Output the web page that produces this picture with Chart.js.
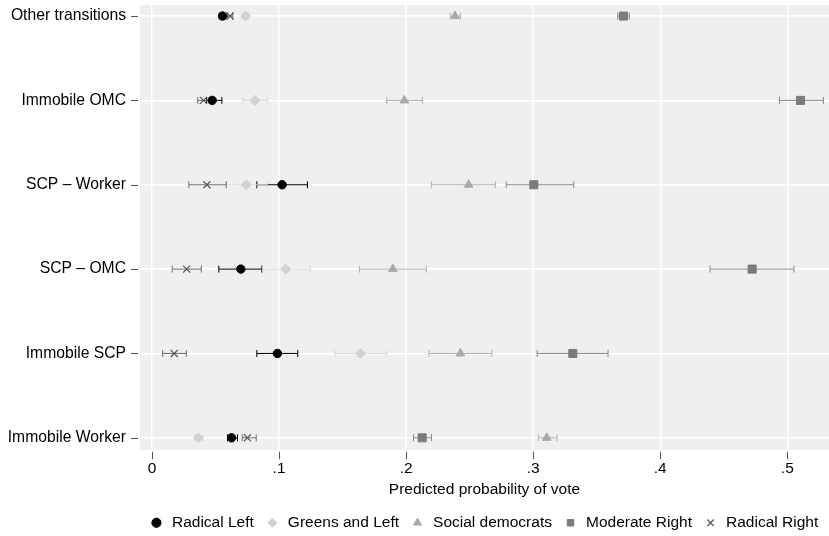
<!DOCTYPE html>
<html lang="en">
<head>
  <meta charset="UTF-8" />
  <title>Predicted probability of vote</title>
  <script src="https://cdn.jsdelivr.net/npm/chart.js"></script>
  <style>
    body { margin: 0; background: #fff; }
    #chart { display: block; }
  </style>
</head>
<body>
  <canvas id="chart" width="829" height="536"></canvas>

  <script>
    // categories, top to bottom
    const categories = ["Other transitions", "Immobile OMC", "SCP – Worker", "SCP – OMC", "Immobile SCP", "Immobile Worker"];
    const xTicks = [0, 0.1, 0.2, 0.3, 0.4, 0.5];
    const xTickLabels = ["0", ".1", ".2", ".3", ".4", ".5"];

    const radLeft   = [0.0555, 0.0474, 0.1024, 0.0699, 0.0987, 0.0626];
    const radLeftLo = [0.0530, 0.0430, 0.0825, 0.0526, 0.0825, 0.0594];
    const radLeftHi = [0.0580, 0.0550, 0.1223, 0.0865, 0.1147, 0.0673];

    const greens   = [0.0736, 0.0810, 0.0741, 0.1052, 0.1641, 0.0366];
    const greensLo = [0.0710, 0.0716, 0.0585, 0.0872, 0.1440, 0.0335];
    const greensHi = [0.0760, 0.0907, 0.0905, 0.1246, 0.1848, 0.0398];

    const socDem   = [0.2385, 0.1986, 0.2492, 0.1896, 0.2427, 0.3107];
    const socDemLo = [0.2348, 0.1848, 0.2199, 0.1633, 0.2180, 0.3040];
    const socDemHi = [0.2427, 0.2128, 0.2702, 0.2159, 0.2675, 0.3188];

    const modRight   = [0.3710, 0.5104, 0.3005, 0.4723, 0.3312, 0.2126];
    const modRightLo = [0.3665, 0.4938, 0.2788, 0.4391, 0.3031, 0.2058];
    const modRightHi = [0.3757, 0.5284, 0.3319, 0.5052, 0.3589, 0.2199];

    const radRight   = [0.0615, 0.0405, 0.0432, 0.0273, 0.0175, 0.0751];
    const radRightLo = [0.0594, 0.0360, 0.0290, 0.0159, 0.0084, 0.0710];
    const radRightHi = [0.0636, 0.0450, 0.0584, 0.0388, 0.0270, 0.0820];

    const n = categories.length;
    const rowOf = i => n - 1 - i;
    const pts = arr => arr.map((v, i) => ({ x: v, y: rowOf(i) }));

    Chart.defaults.font.family = "'Liberation Sans', Arial, sans-serif";
    Chart.defaults.font.size = 15.5;
    Chart.defaults.color = "#000";

    function serie(label, est, lo, hi, style, radius, fill, stroke, ciColor, bw) {
      return {
        label: label,
        data: pts(est),
        lo: lo, hi: hi, ciColor: ciColor,
        pointStyle: style,
        pointRadius: radius,
        pointHoverRadius: radius,
        backgroundColor: fill,
        borderColor: stroke,
        borderWidth: bw,
        showLine: false
      };
    }

    const plotBg = {
      id: "plotBg",
      beforeDraw(chart) {
        const a = chart.chartArea, ctx = chart.ctx;
        ctx.save();
        ctx.fillStyle = "#eef0ef";
        ctx.fillRect(a.left, a.top, a.right - a.left, a.bottom - a.top);
        ctx.restore();
      }
    };

    const errorBars = {
      id: "errorBars",
      beforeDatasetsDraw(chart) {
        const ctx = chart.ctx, xs = chart.scales.x, ys = chart.scales.y;
        ctx.save();
        ctx.lineWidth = 1;
        chart.data.datasets.forEach(ds => {
          ctx.strokeStyle = ds.ciColor;
          ds.lo.forEach((lo, i) => {
            const y = ys.getPixelForValue(rowOf(i));
            const x1 = xs.getPixelForValue(lo), x2 = xs.getPixelForValue(ds.hi[i]);
            ctx.beginPath();
            ctx.moveTo(x1, y); ctx.lineTo(x2, y);
            ctx.moveTo(x1, y - 3.5); ctx.lineTo(x1, y + 3.5);
            ctx.moveTo(x2, y - 3.5); ctx.lineTo(x2, y + 3.5);
            ctx.stroke();
          });
        });
        ctx.restore();
      }
    };

    const tickMarks = {
      id: "tickMarks",
      afterDraw(chart) {
        const ctx = chart.ctx, xs = chart.scales.x, ys = chart.scales.y, a = chart.chartArea;
        ctx.save();
        ctx.strokeStyle = "#555";
        ctx.lineWidth = 1;
        ctx.beginPath();
        categories.forEach((c, i) => {
          const y = Math.round(ys.getPixelForValue(rowOf(i))) + 0.5;
          ctx.moveTo(a.left - 9, y); ctx.lineTo(a.left - 2, y);
        });
        xTicks.forEach(v => {
          const x = Math.round(xs.getPixelForValue(v)) + 0.5;
          ctx.moveTo(x, a.bottom + 1.5); ctx.lineTo(x, a.bottom + 9);
        });
        ctx.stroke();
        ctx.restore();
      }
    };

    new Chart(document.getElementById("chart"), {
      type: "scatter",
      data: {
        datasets: [
          serie("Radical Left", radLeft, radLeftLo, radLeftHi, "circle", 4.2, "#000", "#000", "#000", 1),
          serie("Greens and Left", greens, greensLo, greensHi, "rectRot", 5, "#d2d2d2", "#d2d2d2", "#d9d9d9", 1),
          serie("Social democrats", socDem, socDemLo, socDemHi, "triangle", 5, "#a9a9a9", "#a9a9a9", "#b0b0b0", 1),
          serie("Moderate Right", modRight, modRightLo, modRightHi, "rect", 5.7, "#7b7b7d", "#7b7b7d", "#8a8a8a", 1),
          serie("Radical Right", radRight, radRightLo, radRightHi, "crossRot", 5, "#555", "#555", "#6e6e6e", 1.2)
        ]
      },
      options: {
        responsive: false,
        animation: false,
        layout: { autoPadding: false, padding: { top: 5, right: 0, left: 0, bottom: -4.5 } },
        plugins: {
          tooltip: { enabled: false },
          legend: {
            position: "bottom",
            align: "end",
            labels: { usePointStyle: true, boxHeight: 6.5, padding: 10.8, color: "#000" }
          }
        },
        scales: {
          x: {
            type: "linear",
            min: -0.00944,
            max: 0.5328,
            afterBuildTicks: s => { s.ticks = xTicks.map(v => ({ value: v })); },
            afterFit: s => { s.height = 54; s.paddingLeft = 0; s.paddingRight = 0; },
            ticks: {
              padding: 9.5,
              maxRotation: 0,
              callback: (v, i) => xTickLabels[i]
            },
            grid: { color: "#fff", lineWidth: 1.4, drawTicks: false },
            border: { display: false },
            title: {
              display: true,
              text: "Predicted probability of vote",
              padding: { top: 0, bottom: 5.5 }
            }
          },
          y: {
            type: "linear",
            min: -0.147,
            max: 5.131,
            afterBuildTicks: s => { s.ticks = categories.map((c, i) => ({ value: rowOf(i) })); },
            afterFit: s => { s.width = 140; s.paddingTop = 0; s.paddingBottom = 0; },
            ticks: {
              padding: 14,
              font: { size: 15.7 },
              callback: v => categories[n - 1 - v]
            },
            grid: { color: "#fff", lineWidth: 1.4, drawTicks: false },
            border: { display: false }
          }
        }
      },
      plugins: [plotBg, errorBars, tickMarks]
    });
  </script>
</body>
</html>
